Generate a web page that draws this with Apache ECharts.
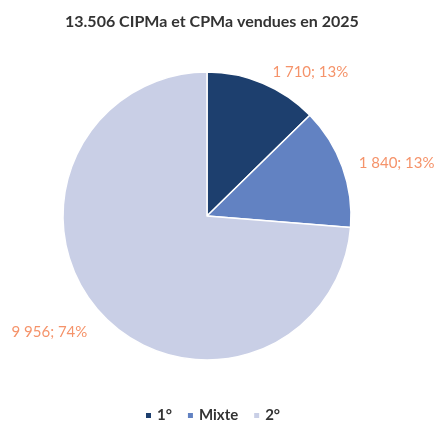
<!DOCTYPE html>
<html>
<head>
<meta charset="utf-8">
<script src="https://cdn.jsdelivr.net/npm/echarts@6/dist/echarts.min.js"></script>
<style>
  html, body { margin: 0; padding: 0; background: #fff; }
  #chart { width: 436px; height: 421px; }
</style>
</head>
<body>
<div id="chart"></div>
<script>
// data
const categories = ['1°', 'Mixte', '2°']
const values = [1710, 1840, 9956]
const percents = ['13%', '13%', '74%']
const colors = ['#1d3f6e', '#6282c2', '#c9cfe6']

const fmt = v => String(v).replace(/\B(?=(\d{3})+(?!\d))/g, ' ')

const chart = echarts.init(document.getElementById('chart'))

chart.setOption({
  animation: false,
  title: {
    text: '13.506 CIPMa et CPMa vendues en 2025',
    left: 60,
    top: 9,
    textStyle: {
      fontFamily: 'Lato',
      fontSize: 16,
      fontWeight: 'bold',
      color: '#333'
    }
  },
  legend: {
    top: 403,
    left: 139,
    icon: 'rect',
    itemWidth: 7,
    itemHeight: 7,
    itemGap: 14,
    textStyle: {
      fontFamily: 'Lato',
      fontSize: 15,
      fontWeight: 'bold',
      color: '#333'
    },
    data: categories
  },
  series: [
    {
      type: 'pie',
      center: [207, 216],
      radius: 144,
      startAngle: 90,
      clockwise: true,
      itemStyle: {
        borderColor: '#fff',
        borderWidth: 1.5
      },
      label: {
        show: true,
        position: 'outside',
        overflow: 'none',
        fontFamily: 'Lato',
        fontSize: 15,
        color: '#f5936a',
        formatter: p => fmt(p.value) + '; ' + percents[p.dataIndex]
      },
      labelLine: { show: false, length: 12, length2: 0 },
      labelLayout: p => {
        if (p.dataIndex === 2) return { dy: 10 }
        return {}
      },
      data: categories.map((c, i) => ({
        name: c,
        value: values[i],
        itemStyle: { color: colors[i] }
      }))
    }
  ]
})
</script>
</body>
</html>
